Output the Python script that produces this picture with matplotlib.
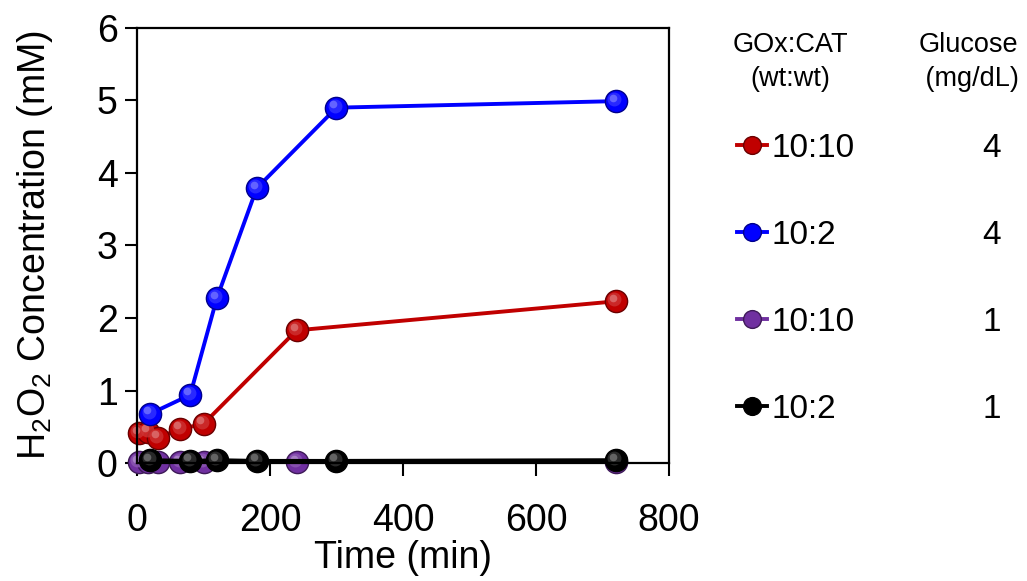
import numpy as np
import matplotlib
matplotlib.use('Agg')
import matplotlib.pyplot as plt
from matplotlib.transforms import offset_copy
from matplotlib.colors import to_rgb

plt.rcParams['font.family'] = ['Liberation Sans', 'DejaVu Sans']
plt.rcParams['mathtext.default'] = 'regular'

# Datos
t_rojo = [3, 17, 31, 65, 100, 240, 720]
y_rojo = [0.41, 0.43, 0.35, 0.47, 0.54, 1.83, 2.23]

t_azul = [20, 80, 120, 180, 300, 720]
y_azul = [0.68, 0.94, 2.27, 3.79, 4.90, 4.99]

t_morado = [3, 17, 31, 65, 100, 240, 720]
y_morado = [0.01, 0.01, 0.01, 0.01, 0.01, 0.01, 0.01]

t_negro = [20, 80, 120, 180, 300, 720]
y_negro = [0.04, 0.03, 0.04, 0.03, 0.03, 0.04]

etiquetas = ['10:10', '10:2', '10:10', '10:2']
glucosa = ['4', '4', '1', '1']
colores = ['#C00000', '#0000FF', '#7030A0', '#000000']

series = [(t_rojo, y_rojo), (t_azul, y_azul), (t_morado, y_morado), (t_negro, y_negro)]

fig = plt.figure(figsize=(10.27, 5.81), dpi=100)
ax = fig.add_axes([0.1334, 0.203, 0.518, 0.749])


def mezclar(c, otro, f):
    c = np.array(to_rgb(c))
    otro = np.array(to_rgb(otro))
    return tuple(c * (1 - f) + otro * f)


# Dibujar series con efecto de esfera
handles = []
for (t, y), col, lab in zip(series, colores, etiquetas):
    h, = ax.plot(t, y, '-o', color=col, lw=2.8, ms=16,
                 mfc=col, mec=mezclar(col, 'black', 0.45), mew=1.0,
                 label=lab, clip_on=False)
    handles.append(h)
    for k, (ms, f) in enumerate([(10, 0.2), (5.5, 0.45)]):
        tr = offset_copy(ax.transData, fig=fig, x=-1.2 - k, y=1.5 + k, units='points')
        ax.plot(t, y, 'o', transform=tr, ms=ms, mfc=mezclar(col, 'white', f),
                mec='none', alpha=0.8, clip_on=False)

ax.set_xlim(0, 800)
ax.set_ylim(0, 6)
ax.set_xticks([0, 200, 400, 600, 800])
ax.set_yticks([0, 1, 2, 3, 4, 5, 6])
ax.tick_params(direction='out', length=9, width=1.5, labelsize=27)
ax.tick_params(axis='x', pad=20)
ax.tick_params(axis='y', pad=5)
for s in ax.spines.values():
    s.set_linewidth(1.6)

ax.set_xlabel('Time (min)', fontsize=27, labelpad=0.5)
ax.set_ylabel('H$_2$O$_2$ Concentration (mM)', fontsize=27, labelpad=30)

leg = ax.legend(handles=handles, loc='upper left', bbox_to_anchor=(737 / 1027, 1 - 133 / 581),
                bbox_transform=fig.transFigure, frameon=False, fontsize=24,
                handlelength=0.9, handletextpad=0.15, labelspacing=1.68,
                borderpad=0, borderaxespad=0, markerscale=0.8)

fig.text(790 / 1027, 1 - 62 / 581, 'GOx:CAT\n(wt:wt)', ha='center', va='center',
         fontsize=19.5, linespacing=1.35)
fig.text(968 / 1027, 1 - 62 / 581, 'Glucose\n (mg/dL)', ha='center', va='center',
         fontsize=19.5, linespacing=1.35)

# Columna de glucosa alineada con las filas de la leyenda
fig.canvas.draw()
r = fig.canvas.get_renderer()
inv = fig.transFigure.inverted()
for txt, g in zip(leg.get_texts(), glucosa):
    bb = txt.get_window_extent(r)
    yc = inv.transform((0, (bb.y0 + bb.y1) / 2))[1]
    fig.text(992 / 1027, yc, g, ha='center', va='center', fontsize=24)

fig.savefig('out.png', dpi=100)
